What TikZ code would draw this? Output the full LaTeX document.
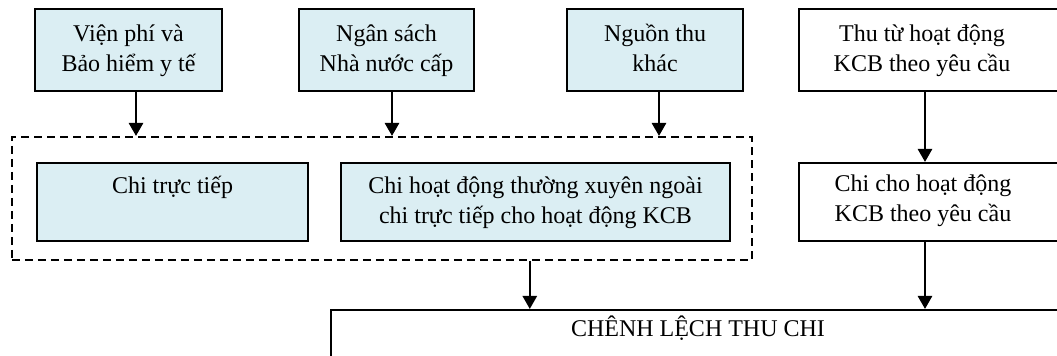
\documentclass[tikz,border=0pt]{standalone}
\usepackage{fontspec}
\setmainfont{Liberation Serif}
\usetikzlibrary{arrows.meta}
\definecolor{boxblue}{RGB}{219,238,243}
\newcommand{\lnstrut}{\rule[-4pt]{0pt}{15pt}}
\begin{document}
\begin{tikzpicture}[x=0.5pt,y=-0.5pt,
  every node/.style={font=\fontsize{12pt}{15pt}\selectfont},
  box/.style={draw=black,line width=1pt,inner sep=0pt,anchor=north west,align=center},
  bluebox/.style={box,fill=boxblue},
  txt/.style={inner sep=0pt,align=center},
  grpbox/.style={draw=black,line width=0.8pt,dash pattern=on 4pt off 2.5pt,inner sep=0pt,anchor=north west},
  arr/.style={line width=1.3pt,-{Triangle[width=7pt,length=6.5pt]}}]
\useasboundingbox (0,0) rectangle (1057,356);
% top row
\node[bluebox,minimum width=93.5pt,minimum height=41pt] (b1) at (34,8) {\lnstrut Viện phí và\\\lnstrut Bảo hiểm y tế};
\node[bluebox,minimum width=87.5pt,minimum height=41pt] (b2) at (298,8) {\lnstrut Ngân sách\\\lnstrut Nhà nước cấp};
\node[bluebox,minimum width=88pt,minimum height=41pt] (b3) at (566,8) {\lnstrut Nguồn thu\\\lnstrut khác};
\node[box,minimum width=136pt,minimum height=41pt] (b4) at (798,8) {};
\node[txt] (b4t) at (922,50) {\lnstrut Thu từ hoạt động\\\lnstrut KCB theo yêu cầu};
% group
\node[grpbox,minimum width=370pt,minimum height=61.5pt] (grp) at (11,136) {};
\node[bluebox,minimum width=135.5pt,minimum height=39pt] (c1) at (36,162) {\lnstrut Chi trực tiếp\\\lnstrut};
\node[bluebox,minimum width=194.5pt,minimum height=39pt] (c2) at (340,162) {\lnstrut Chi hoạt động thường xuyên ngoài\\\lnstrut chi trực tiếp cho hoạt động KCB};
\node[box,minimum width=136pt,minimum height=39pt] (b5) at (798,162) {};
\node[txt] (b5t) at (923,200) {\lnstrut Chi cho hoạt động\\\lnstrut KCB theo yêu cầu};
% result
\node[box,minimum width=370pt,minimum height=24pt] (res) at (330,309) {};
\node[txt,anchor=base] (rest) at (698,337) {CHÊNH LỆCH THU CHI};
% connectors
\draw[arr] ([xshift=3.75pt]b1.south) -- ([xshift=3.75pt]b1.south |- grp.north);
\draw[arr] ([xshift=2.75pt]b2.south) -- ([xshift=2.75pt]b2.south |- grp.north);
\draw[arr] ([xshift=2pt]b3.south) -- ([xshift=2pt]b3.south |- grp.north);
\draw[arr] (b4.south -| b4t.center) ++(1.5pt,0) coordinate (a4) -- (a4 |- b5.north);
\draw[arr] (b5.south -| b5t.center) ++(1pt,0) coordinate (a5) -- (a5 |- res.north);
\draw[arr] ([xshift=74pt]grp.south) coordinate (ag) -- (ag |- res.north);
\end{tikzpicture}
\end{document}
